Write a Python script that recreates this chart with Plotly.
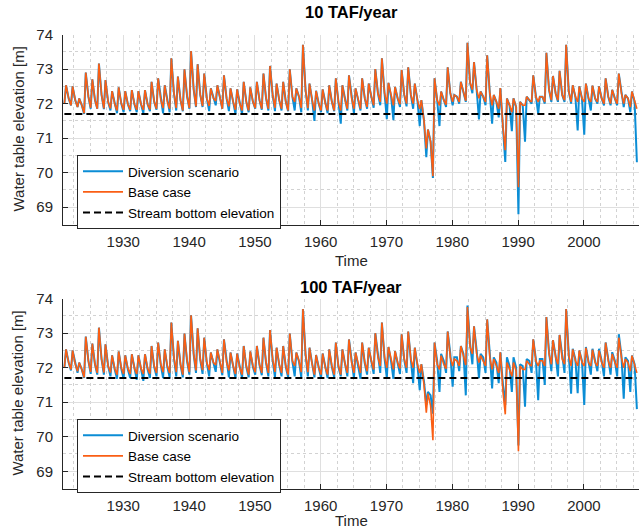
import plotly.graph_objects as go

# ---------------- data ----------------
YEARS = list(range(1921, 2009))  # water years shown

# Base case (identical in both panels): low point before the yearly rise,
# yearly peak, and late-season level
BASE_TROUGH = [72.00, 71.95, 71.90, 71.72, 71.88, 71.85, 71.86, 71.86, 71.80, 71.82,
               71.82, 71.82, 71.82, 71.83, 71.85, 71.87, 71.85, 71.87, 71.80, 71.87,
               71.92, 71.93, 71.93, 72.08, 71.85, 71.92, 71.82, 71.80, 71.80, 71.87,
               71.85, 71.85, 71.88, 71.85, 71.80, 72.05, 71.87, 71.87, 71.80, 71.80,
               71.80, 71.80, 71.80, 71.85, 71.85, 71.85, 71.90, 71.95, 72.05, 72.00,
               71.95, 71.98, 72.00, 72.00, 71.85, 70.70, 69.90, 71.95, 71.97, 72.05,
               72.05, 72.08, 72.40, 72.15, 72.05, 71.95, 71.85, 70.65, 71.75, 69.58,
               71.95, 72.05, 72.05, 72.05, 72.10, 72.10, 72.10, 72.05, 72.05, 72.05,
               72.05, 72.05, 72.00, 72.00, 72.00, 72.00, 71.90, 71.85]
BASE_PEAK = [72.53, 72.50, 72.15, 72.90, 72.70, 73.16, 72.68, 72.36, 72.47, 72.36,
             72.39, 72.36, 72.39, 72.63, 72.73, 72.53, 73.31, 72.78, 72.99, 73.52,
             73.14, 72.87, 72.44, 72.53, 72.82, 72.44, 72.41, 72.63, 72.47, 72.63,
             72.87, 73.09, 72.58, 72.63, 72.99, 72.44, 73.70, 72.58, 72.37, 72.41,
             72.53, 72.73, 72.53, 72.82, 72.44, 72.73, 72.58, 73.00, 73.31, 72.60,
             72.48, 72.97, 73.05, 72.58, 72.10, 71.25, 72.73, 72.35, 73.05, 72.25,
             72.63, 73.76, 73.20, 72.35, 73.40, 72.25, 72.45, 72.15, 72.15, 72.05,
             72.20, 72.82, 72.20, 73.47, 72.80, 72.95, 73.70, 72.53, 72.50, 72.58,
             72.52, 72.50, 72.73, 72.40, 72.87, 72.25, 72.35]
BASE_MID = [72.15, 72.10, 71.95, 72.20, 72.10, 72.25, 72.05, 71.98, 72.00, 71.98,
            71.98, 71.98, 71.98, 72.05, 72.10, 72.05, 72.30, 72.10, 72.20, 72.40,
            72.25, 72.15, 72.15, 72.15, 72.15, 72.05, 72.00, 72.05, 72.05, 72.10,
            72.15, 72.25, 72.10, 72.05, 72.20, 72.20, 72.40, 72.10, 72.00, 72.00,
            72.05, 72.05, 72.10, 72.15, 72.10, 72.15, 72.20, 72.30, 72.30, 72.20,
            72.15, 72.25, 72.25, 72.10, 71.50, 70.90, 72.10, 72.10, 72.30, 72.20,
            72.30, 72.60, 72.40, 72.20, 72.30, 72.05, 71.30, 71.95, 71.90, 71.95,
            72.10, 72.20, 72.20, 72.40, 72.30, 72.25, 72.35, 72.20, 72.15, 72.15,
            72.15, 72.15, 72.20, 72.15, 72.30, 72.15, 72.05]

# Diversion scenario, 10 TAF/year (peaks and late-season levels coincide with base case)
DIV10_TROUGH = [72.00, 71.95, 71.90, 71.70, 71.85, 71.85, 71.84, 71.80, 71.72, 71.75,
                71.78, 71.75, 71.72, 71.78, 71.82, 71.72, 71.75, 71.80, 71.78, 71.85,
                71.90, 71.90, 71.78, 71.95, 71.85, 71.78, 71.70, 71.70, 71.75, 71.85,
                71.82, 71.80, 71.78, 71.80, 71.78, 71.80, 71.75, 71.80, 71.50, 71.75,
                71.72, 71.78, 71.42, 71.80, 71.72, 71.80, 71.85, 71.88, 71.95, 71.55,
                71.52, 71.90, 71.92, 71.85, 71.35, 70.45, 69.85, 71.35, 71.90, 71.95,
                72.00, 72.05, 72.30, 71.54, 71.95, 71.42, 71.60, 70.31, 71.20, 68.80,
                70.90, 72.00, 71.70, 72.00, 72.05, 72.05, 72.05, 72.00, 71.22, 71.10,
                71.80, 72.00, 71.95, 71.95, 71.95, 71.90, 71.75, 70.30]
DIV10_PEAK = BASE_PEAK
DIV10_MID = BASE_MID

# Diversion scenario, 100 TAF/year
DIV100_TROUGH = [72.00, 71.92, 71.85, 71.70, 71.82, 71.80, 71.80, 71.75, 71.68, 71.68,
                 71.70, 71.65, 71.62, 71.70, 71.75, 71.70, 71.72, 71.75, 71.72, 71.80,
                 71.85, 71.82, 71.75, 71.88, 71.78, 71.72, 71.70, 71.70, 71.72, 71.80,
                 71.78, 71.75, 71.72, 71.75, 71.72, 71.75, 71.72, 71.75, 71.72, 71.70,
                 71.70, 71.72, 71.75, 71.75, 71.70, 71.68, 71.80, 71.82, 71.85, 71.70,
                 71.68, 71.82, 71.85, 71.55, 71.35, 70.92, 70.67, 71.30, 71.85, 71.45,
                 71.90, 71.20, 72.10, 71.70, 71.85, 71.40, 71.55, 70.92, 71.30, 69.75,
                 70.87, 71.85, 71.06, 71.50, 71.90, 71.75, 71.85, 71.25, 71.26, 70.92,
                 71.80, 71.90, 71.75, 71.80, 71.75, 71.10, 71.30, 70.80]
DIV100_PEAK = [72.53, 72.50, 72.15, 72.90, 72.70, 73.16, 72.68, 72.36, 72.47, 72.36,
               72.39, 72.36, 72.39, 72.63, 72.73, 72.53, 73.31, 72.78, 72.99, 73.52,
               73.14, 72.87, 72.44, 72.53, 72.82, 72.44, 72.41, 72.63, 72.47, 72.63,
               72.87, 73.09, 72.58, 72.63, 72.99, 72.44, 73.70, 72.58, 72.37, 72.41,
               72.53, 72.73, 72.53, 72.82, 72.44, 72.73, 72.58, 73.00, 73.31, 72.60,
               72.48, 72.97, 73.05, 72.58, 72.10, 71.30, 72.73, 72.40, 73.05, 72.30,
               72.63, 73.80, 73.20, 72.40, 73.40, 72.30, 72.45, 72.30, 72.30, 72.10,
               72.25, 72.82, 72.25, 73.47, 72.80, 72.95, 73.70, 72.55, 72.50, 72.60,
               72.55, 72.55, 72.73, 72.45, 72.97, 72.30, 72.35]
DIV100_MID = [72.15, 72.10, 71.95, 72.20, 72.10, 72.25, 72.05, 71.95, 71.97, 71.95,
              71.95, 71.95, 71.95, 72.02, 72.08, 72.02, 72.28, 72.08, 72.18, 72.38,
              72.23, 72.13, 72.12, 72.12, 72.13, 72.02, 71.97, 72.02, 72.02, 72.08,
              72.13, 72.22, 72.08, 72.02, 72.18, 72.18, 72.38, 72.08, 71.97, 71.97,
              72.02, 72.02, 72.08, 72.13, 72.08, 72.13, 72.18, 72.28, 72.28, 72.18,
              72.13, 72.23, 72.23, 72.08, 71.60, 71.20, 72.20, 72.20, 72.40, 72.30,
              72.40, 72.70, 72.50, 72.30, 72.40, 72.15, 71.50, 72.05, 72.00, 72.05,
              72.20, 72.25, 72.25, 72.45, 72.35, 72.30, 72.40, 72.25, 72.20, 72.20,
              72.20, 72.20, 72.25, 72.20, 72.35, 72.20, 72.10]

STREAM_BOTTOM = [71.7, 71.7]

X_TICKS = [1930, 1940, 1950, 1960, 1970, 1980, 1990, 2000]
Y_TICKS = [69, 70, 71, 72, 73, 74]
PANEL_TITLES = ["10 TAF/year", "100 TAF/year"]

# ---------------- helpers ----------------
def build(trough, peak, mid):
    t, v = [], []
    for i, yr in enumerate(YEARS):
        t.append(yr + 0.05)
        v.append(trough[i])
        if i < len(peak):
            t.append(yr + 0.30)
            v.append(peak[i])
            t.append(yr + 0.70)
            v.append(mid[i])
    return t, v

BLUE = "#0B8DD5"
ORANGE = "#FA5E14"
AX = "#262626"
FONT = "Liberation Sans, Arial, Helvetica, sans-serif"

fig = go.Figure()
panels = [
    (DIV10_TROUGH, DIV10_PEAK, DIV10_MID, "x", "y", "legend"),
    (DIV100_TROUGH, DIV100_PEAK, DIV100_MID, "x2", "y2", "legend2"),
]
base_t, base_v = build(BASE_TROUGH, BASE_PEAK, BASE_MID)
for dtr, dpk, dmd, xa, ya, lg in panels:
    dt, dv = build(dtr, dpk, dmd)
    fig.add_trace(go.Scatter(x=dt, y=dv, mode="lines", name="Diversion scenario",
                             line=dict(color=BLUE, width=2.0), xaxis=xa, yaxis=ya, legend=lg))
    fig.add_trace(go.Scatter(x=base_t, y=base_v, mode="lines", name="Base case",
                             line=dict(color=ORANGE, width=1.6),
                             xaxis=xa, yaxis=ya, legend=lg))
    fig.add_trace(go.Scatter(x=[YEARS[0] + 0.05, YEARS[-1] + 0.05], y=STREAM_BOTTOM,
                             mode="lines", name="Stream bottom elevation",
                             line=dict(color="black", width=2, dash="7px,4px"),
                             xaxis=xa, yaxis=ya, legend=lg))

H = 529.0
def py(px):
    return 1 - px / H

xcommon = dict(range=[1920.84, 2008.37], tickvals=X_TICKS,
               ticktext=[str(v) for v in X_TICKS],
               showgrid=True, gridcolor="#DFDFDF", gridwidth=1,
               minor=dict(dtick=2.5, tick0=1920, showgrid=True, gridcolor="#D2D2D2",
                          griddash="dot", gridwidth=1),
               ticks="inside", ticklen=5, tickcolor=AX, showline=True, linecolor=AX,
               linewidth=1, zeroline=False, automargin=False, ticklabelstandoff=3,
               tickfont=dict(family=FONT, size=15, color=AX))
ycommon = dict(range=[68.5, 74], tickvals=Y_TICKS, ticktext=[str(v) for v in Y_TICKS],
               showgrid=True, gridcolor="#DFDFDF", gridwidth=1,
               minor=dict(dtick=0.5, tick0=68.5, showgrid=True, gridcolor="#D2D2D2",
                          griddash="dot", gridwidth=1),
               ticks="inside", ticklen=5, tickcolor=AX, showline=True, linecolor=AX,
               linewidth=1, zeroline=False, automargin=False, ticklabelstandoff=6,
               tickfont=dict(family=FONT, size=15, color=AX))

legcommon = dict(xanchor="left", yanchor="top", bgcolor="white", bordercolor=AX,
                 borderwidth=1, font=dict(family=FONT, size=13.5, color="black"),
                 tracegroupgap=0, itemwidth=40)

fig.update_layout(
    width=639, height=529,
    margin=dict(l=63, r=0, t=0, b=0),
    paper_bgcolor="white", plot_bgcolor="white",
    font=dict(family=FONT, color=AX),
    xaxis=dict(xcommon, anchor="y"),
    yaxis=dict(ycommon, anchor="x", domain=[py(224.5), py(34.5)]),
    xaxis2=dict(xcommon, anchor="y2"),
    yaxis2=dict(ycommon, anchor="x2", domain=[py(488.5), py(298.7)]),
    legend=dict(legcommon, x=(77 - 63) / 576, y=py(155)),
    legend2=dict(legcommon, x=(77 - 63) / 576, y=py(419)),
    showlegend=True,
)

ann = []
for title, ty, tl, yl in [(PANEL_TITLES[0], 12, 260, 129.5), (PANEL_TITLES[1], 287, 520, 393.6)]:
    ann.append(dict(text="<b>%s</b>" % title, x=0.5, y=py(ty), xref="paper", yref="paper",
                    showarrow=False, xanchor="center", yanchor="middle",
                    font=dict(family=FONT, size=16.5, color="black")))
    ann.append(dict(text="Time", x=0.5, y=py(tl), xref="paper", yref="paper",
                    showarrow=False, xanchor="center", yanchor="middle",
                    font=dict(family=FONT, size=15, color=AX)))
    ann.append(dict(text="Water table elevation [m]", x=(18 - 63) / 576, y=py(yl),
                    xref="paper", yref="paper", showarrow=False, textangle=-90,
                    xanchor="center", yanchor="middle",
                    font=dict(family=FONT, size=15, color=AX)))
fig.update_layout(annotations=ann)

fig.write_html("out.html")
